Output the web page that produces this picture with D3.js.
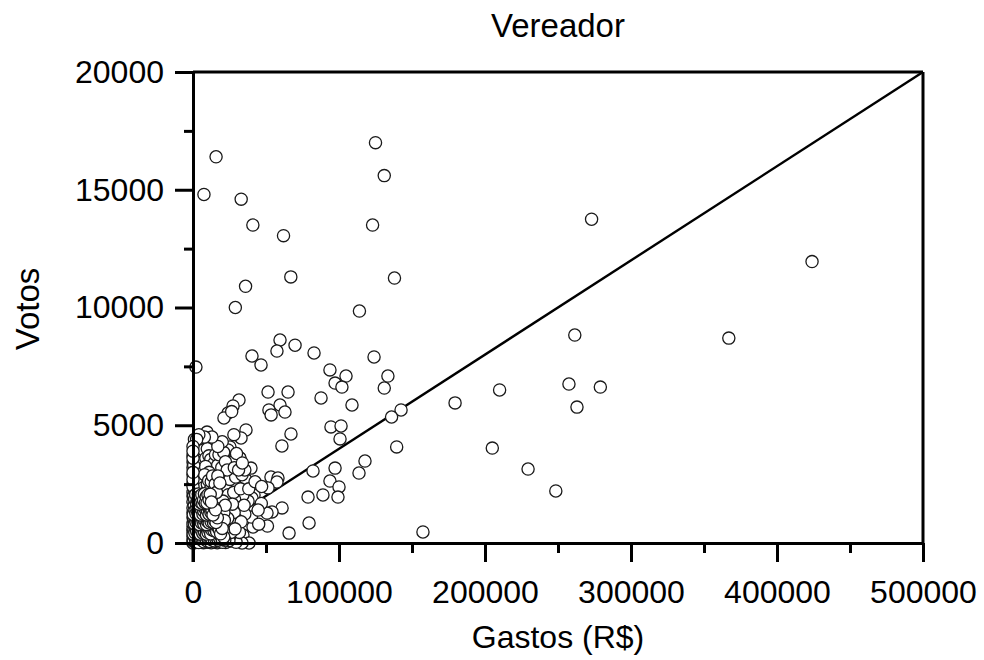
<!DOCTYPE html>
<html>
<head>
<meta charset="utf-8">
<script src="https://cdn.jsdelivr.net/npm/d3@7"></script>
<style>
  html, body { margin: 0; padding: 0; background: #fff; }
  svg { display: block; }
  text { font-family: "Liberation Sans", Arial, sans-serif; fill: #000; }
</style>
</head>
<body>
<svg id="chart" width="984" height="660"></svg>
<script>
// ---- data (Gastos R$, Votos) ----
const titulo = "Vereador";
const rotuloX = "Gastos (R$)";
const rotuloY = "Votos";
const ticksX = [0, 100000, 200000, 300000, 400000, 500000];
const ticksXMenor = [50000, 150000, 250000, 350000, 450000];
const ticksY = [0, 5000, 10000, 15000, 20000];
const ticksYMenor = [2500, 7500, 12500, 17500];
const linhaRef = [[0, 0], [500000, 20000]];

const candidatosAltos = [
  [7500,14800],[15800,16400],[33000,14600],[41000,13500],[36000,10900],[29000,10000],
  [62000,13050],[67000,11300],[125000,17000],[131000,15600],[123000,13500],[138000,11250],
  [114000,9850],[273000,13750],[424000,11950],[367000,8700],[261500,8830],[257500,6750],
  [279000,6620],[263000,5770],[210000,6500],[179500,5950],[142500,5650],[136000,5350],
  [131000,6580],[133500,7090],[124000,7900],[205000,4030],[229500,3140],[248500,2210],
  [157500,470],[139500,4080]
];
const candidatosMedios = [
  [59600,8620],[57500,8150],[69900,8400],[40400,7940],[46600,7560],[82900,8070],[2000,7470],
  [93800,7350],[104800,7090],[97300,6790],[102000,6620],[51400,6410],[65100,6410],[87700,6160],
  [108900,5860],[31500,6070],[27400,5820],
  [59600,5860],[52000,5650],[53500,5440],[63000,5560],[94500,4930],[101400,4970],[100700,4420],
  [67100,4630],[60900,4120],[36300,4800],[32900,4460],[117800,3480],[113700,2970],[97300,3180],
  [93800,2630],[100000,2380],[99300,1950],[89000,2040],[78800,1950],[82200,3060],[39700,3180],
  [32000,3610],[53400,2800],[58200,2760],[57500,2590],[51400,2340],[41800,2040],[40400,1910],
  [37700,1780],[61000,1490],[54100,1320],[50700,1270],[79500,850],[65800,420],[41100,680],
  [34200,340],[38400,0],[33600,0],[36900,2500],[46800,1680],[51000,720],[40000,1100]
];
const candidatosBaixos = [
  [24000,5520],[21200,5310],[26500,5580],[9600,4710],[10300,4460],[6800,4290],[2000,4030],
  [4800,3860],[25300,4080],[24000,3860],[32200,3610],[0,3740],[0,3440],[1400,3180],[11000,3310],
  [18500,3400],[13700,3180],[1400,2890],[8200,2800],[11600,2680],[16400,2760],[21900,2720],
  [26700,2680],[30800,2590],[36300,2680],[3400,4160],[8200,3820],[13700,3860],[24000,3950],
  [27400,3440],[13000,3400],[6200,3310],[0,2550],[6200,2380],[13000,2340],[19900,2250],
  [26700,2250],[30100,2380],[34200,2040],[28500,1850],[31500,1500],[35500,1230],[30400,980],
  [0,0],[600,60],[1800,20],[2900,110],[4100,40],[5600,90],[7200,15],[8700,70],[10300,30],
  [12100,95],[14200,40],[16600,10],[19300,60],[22400,20],[25800,80],[29500,30],
  [300,260],[1400,330],[2500,210],[3700,390],[4900,280],[6300,450],[7600,300],[9100,520],
  [10700,380],[12400,610],[14600,430],[17100,560],[19800,480],[23000,700],[26500,610],[30300,820],
  [0,520],[900,640],[2100,760],[3300,580],[4500,850],[5800,700],[7000,980],[8400,820],
  [9900,1100],[11600,930],[13400,1230],[15500,1040],[18200,1330],[21500,1180],[24800,1450],
  [200,900],[1200,1050],[2400,1240],[3600,1010],[4800,1390],[6100,1160],[7500,1540],[9000,1320],
  [10600,1700],[12500,1480],[14800,1850],[17400,1600],[20600,2000],
  [0,1300],[1000,1480],[2200,1650],[3400,1420],[4700,1820],[6000,1590],[7400,1990],[8900,1760],
  [10500,2150],[12600,1950],[15200,2280],
  [300,1720],[1500,1900],[2700,2100],[3900,1880],[5300,2270],[6800,2050],[8300,2420],[9900,2230],
  [0,2150],[1100,2330],[2300,2520],[3600,2300],[4900,2680],[6400,2490],
  [500,2640],[1700,2800],[3000,3000],[4300,2750],[800,3100],[2000,3280],[3200,3520],[500,3600],
  [1500,3900],[4000,3450],[9500,3050],[16000,2950],[20500,3600]
];
const candidatosNucleo = [
  [400,150],[1100,480],[1700,90],[2300,400],[2600,870],[3100,230],[3900,620],[4300,160],
  [5100,470],[5400,1020],[6000,250],[6700,620],[7300,1200],[7900,130],[8200,540],[8800,980],
  [9500,260],[9700,720],[10400,1250],[11000,120],[11300,560],[11900,1400],[12900,300],[13300,800],
  [13900,1600],[15200,200],[15700,650],[16300,1300],[17800,260],[18500,900],[20000,1500],
  [21000,350],[22000,900],[23500,1650],[25200,300],[27300,980],[28200,1300],[31800,450],
  [33000,900],[35000,1600],
  [600,1100],[1300,1300],[1900,1850],[2800,1450],[3100,2350],[4000,1700],[4400,2100],[5100,1550],
  [5600,2500],[6400,1850],[7100,2700],[7800,2250],[8600,2000],[9300,2600],[10100,1900],
  [11200,2450],[12000,2800],[13500,2150],[14300,2550],[15800,1950],[17000,2450],[18800,1900],
  [19500,2700],[21800,1800],[22800,2300],[24200,2050],[25300,2700],[27900,2150],[29200,2800],
  [32500,2300],[33600,2900],[35500,3100],[38200,2300],[42500,2600],[44600,1400],[47000,2400],
  [45000,800],
  [0,2900],[0,3200],[800,3450],[1600,3650],[2400,3850],[600,4050],[3000,4100],[4200,3550],
  [5500,3650],[6800,3450],[7200,3950],[8800,3600],[9800,4000],[10900,3700],[12200,3550],
  [14500,3400],[15400,3750],[16900,3300],[17800,3750],[19700,3200],[21000,3850],[22200,3450],
  [23400,3100],[28300,3200],[29800,3800],[31200,3100],[33800,3400],[20000,4300],[17000,4100],
  [28000,4600],[13000,4500],[7800,4500],[4000,4600]
];
const candidatosOrigem = [
  [200,700],[700,1750],[1300,150],[1600,600],[2000,1050],[2400,30],[2700,1900],[3200,800],
  [3600,160],[3800,1250],[4400,520],[4600,1500],[5000,60],[5300,780],[5900,1300],[6200,30],
  [6600,850],[7000,400],[7700,1700],[8100,1100],[8500,280],[9000,640],[9400,1450],[9800,40],
  [10200,830],[10800,1050],[11500,330],[12300,150],[12700,1000],[13100,500],[14000,60],
  [14400,1150],[14900,720],[16000,380],[16800,850],[17600,1450],[18300,130],[19200,700],
  [20300,1050],[21600,200],[22500,600],[23800,1050],[24600,100],[26000,450],[27000,1650],
  [28800,600],
  [300,2450],[1200,2650],[1900,2250],[2600,2800],[3500,2550],[4500,3050],[5700,2850],
  [6700,3100],[7600,2650],[8600,3250],[9800,2800],[11000,3000],[0,1750],[0,600],[0,100],
  [500,3300],[1000,4400],[2500,4400],[0,4100]
];
const candidatosCentro = [
  [150,420],[450,880],[750,1320],[1050,230],[1350,1650],[1650,980],[1950,470],[2250,1420],
  [2550,690],[2850,1180],[3150,40],[3450,1760],[3750,860],[4050,330],[4350,1280],[4650,710],
  [4950,1930],[5250,250],[5550,1170],[5850,560],[6150,1720],[6450,190],[6750,1370],[7050,740],
  [7350,90],[7650,990],[7950,1580],[8250,370],[8550,1260],[8850,120],[9150,870],[9450,1880],
  [9750,460],[10050,1500],[10350,610],[10650,50],[10950,1330],[11250,800],[11550,1770],
  [11850,420],[12150,1150],[12450,10],[12750,690],[13050,1570],[13350,250],[13650,1020],
  [13950,450],[14250,1380],[14550,140],[14850,1010],[15150,1670],[15450,480],[15750,1250],
  [16050,80],[16350,770],[16650,1880],[16950,330],[17250,1080],[17550,590],[17850,1700],
  [18150,40],[18450,1230],[18750,460],[19050,950],[19350,230],[19650,1350],[19950,740],
  [20250,30],[20550,1780],[20850,520],[21150,1300],[21450,960],[21750,120],[22050,1600],
  [800,2000],[1700,2350],[2600,2150],[3500,2450],[4400,2250],[5300,2700],[6200,2600],[7100,2350],
  [8000,2900],[8900,2150],[9800,2500],[10700,2650],[11600,2250],[12500,2600],[13400,2850],
  [14300,2250],[15200,2500],[16100,2150],[17000,2850],[18400,2550],
  [0,300],[0,800],[0,1100],[0,1500],[0,2000],[0,2400],[0,2700],[0,3000],[0,3600],[0,3900]
];
const candidatosMinimos = [
  [250,120],[900,280],[1500,210],[2100,60],[2700,300],[3300,140],[3900,20],[4500,250],
  [5100,180],[5700,310],[6300,110],[6900,220],[7500,50],[8100,290],[8700,170],[9300,100],
  [9900,240],[10500,160],[11100,270],[11700,60],[12300,210],[13100,130],[13800,280],[14700,90],
  [15600,190],[16500,260],[17300,120],[18200,210],[19100,290],[20100,150],[21100,250],
  [100,380],[700,560],[1300,440],[1900,640],[2500,500],[3100,690],[3700,440],[4300,600],
  [4900,380],[5500,560],[6100,680],[6700,420],[7300,590],[7900,470],[8500,660],[9100,380],
  [9700,560],[10300,450],[10900,640],[11500,520],[12100,390],[12800,560],[13600,680],[14400,520],
  [15300,600],[16200,480],[17000,680],[18000,560],[18900,390],[20000,620],
  [300,1060],[900,820],[1500,990],[2100,880],[2700,1080],[3300,900],[3900,1040],[4500,780],
  [5100,950],[5700,860],[6300,1070],[6900,910],[7500,800],[8100,960],[8700,1090],[9300,780],
  [9900,920],[10500,1010],[11100,850],[11700,1080],[12400,900],[13200,1060],[14000,870],
  [14900,960],[15800,870],[16700,1070],
  [200,1210],[800,1580],[1400,1390],[2000,1250],[2600,1530],[3200,1290],[3800,1480],[4400,1360],
  [5000,1190],[5600,1440],[6200,1560],[6800,1230],[7400,1350],[8000,1480],[8600,1580],[9200,1190],
  [9800,1370],[10400,1530],[11000,1220],[11600,1460],[12300,1300],[13000,1390],[13700,1190],
  [14500,1520],[15400,1410],
  [400,1980],[1100,1860],[1800,2060],[2400,1700],[3000,1820],[3600,2080],[4200,1650],[4800,1990],
  [5400,1720],[6000,2050],[6600,1680],[7200,1830],[7800,2090],[8400,1700],[9000,1960],[9600,1700],
  [10200,2050],[11000,1840],[11800,2070],[12600,1740]
];

// ---- chart ----
const svg = d3.select("#chart");
const x = d3.scaleLinear().domain([0, 500000]).range([193, 923]);
const y = d3.scaleLinear().domain([0, 20000]).range([543, 72]);
const fmt = d3.format("d");
const AX_W = 3;

// frame (top and right)
svg.append("line").attr("x1", x(0)).attr("x2", x(500000)).attr("y1", y(20000)).attr("y2", y(20000))
  .attr("stroke", "#000").attr("stroke-width", AX_W);
svg.append("line").attr("x1", x(500000)).attr("x2", x(500000)).attr("y1", y(20000)).attr("y2", y(0))
  .attr("stroke", "#000").attr("stroke-width", AX_W);

// reference line
svg.append("path")
  .attr("d", d3.line().x(d => x(d[0])).y(d => y(d[1]))(linhaRef))
  .attr("fill", "none").attr("stroke", "#000").attr("stroke-width", 2.4);

// points: sparse groups first, dense core on top
const todos = candidatosAltos.concat(candidatosMedios, candidatosBaixos, candidatosNucleo,
  candidatosOrigem, candidatosCentro, candidatosMinimos);
svg.append("g").selectAll("circle").data(todos).join("circle")
  .attr("cx", d => x(d[0])).attr("cy", d => y(d[1])).attr("r", 6.1)
  .attr("fill", "#fff").attr("stroke", "#1a1a1a").attr("stroke-width", 1.3);

function styleAxis(g) {
  g.select(".domain").attr("stroke", "#000").attr("stroke-width", AX_W);
  g.selectAll(".tick line").attr("stroke", "#000").attr("stroke-width", AX_W);
  g.selectAll(".tick text").attr("font-size", 32).attr("font-family", "Liberation Sans, Arial, sans-serif").attr("fill", "#000");
}

// bottom axis
const gx = svg.append("g").attr("transform", `translate(0,${y(0)})`)
  .call(d3.axisBottom(x).tickValues(ticksX).tickFormat(fmt).tickSize(19).tickSizeOuter(0).tickPadding(18));
styleAxis(gx);
const gxm = svg.append("g").attr("transform", `translate(0,${y(0)})`)
  .call(d3.axisBottom(x).tickValues(ticksXMenor).tickFormat("").tickSize(10).tickSizeOuter(0));
styleAxis(gxm);
gxm.select(".domain").remove();

// left axis
const gy = svg.append("g").attr("transform", `translate(${x(0)},0)`)
  .call(d3.axisLeft(y).tickValues(ticksY).tickFormat(fmt).tickSize(18).tickSizeOuter(0).tickPadding(11));
styleAxis(gy);
const gym = svg.append("g").attr("transform", `translate(${x(0)},0)`)
  .call(d3.axisLeft(y).tickValues(ticksYMenor).tickFormat("").tickSize(9).tickSizeOuter(0));
styleAxis(gym);
gym.select(".domain").remove();
// extend left axis line down to x tick end
svg.append("line").attr("x1", x(0)).attr("x2", x(0)).attr("y1", y(0)).attr("y2", y(0) + 19)
  .attr("stroke", "#000").attr("stroke-width", AX_W);

// titles
svg.append("text").attr("x", 558).attr("y", 37).attr("text-anchor", "middle")
  .attr("font-size", 33).text(titulo);
svg.append("text").attr("x", 558).attr("y", 648).attr("text-anchor", "middle")
  .attr("font-size", 32).text(rotuloX);
svg.append("text").attr("transform", "translate(39,309) rotate(-90)").attr("text-anchor", "middle")
  .attr("font-size", 33).text(rotuloY);
</script>
</body>
</html>
